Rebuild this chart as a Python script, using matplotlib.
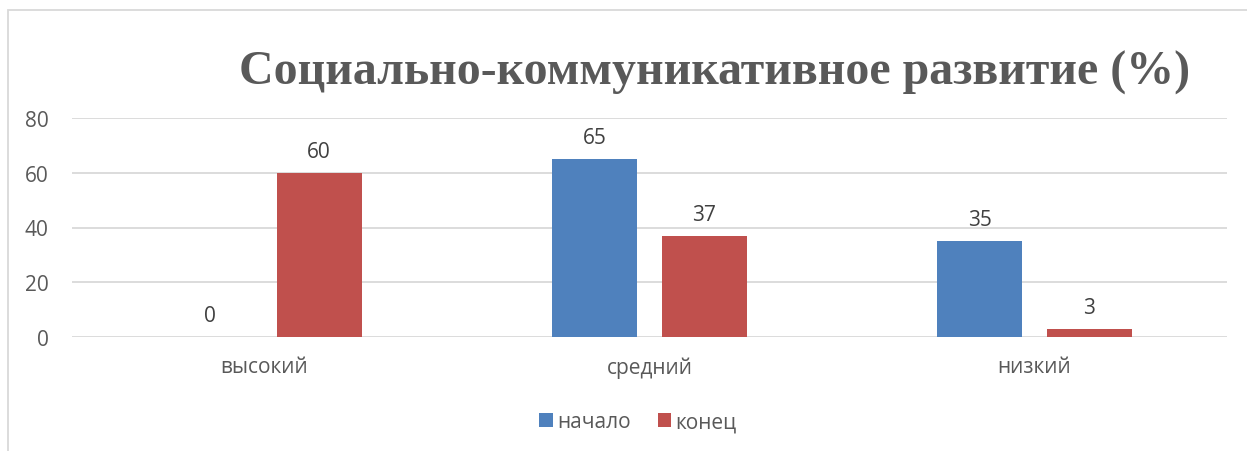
import numpy as np
import matplotlib.pyplot as plt
from matplotlib.patches import Rectangle

categories = ['высокий', 'средний', 'низкий']
start_vals = [0, 65, 35]
end_vals = [60, 37, 3]
series_names = ['начало', 'конец']
yticks = [0, 20, 40, 60, 80]

blue = '#4F81BD'
red = '#C0504D'
text_col = '#595959'

W, H = 1247, 452
fig = plt.figure(figsize=(W / 100, H / 100), dpi=100)
ax = fig.add_axes([72 / W, 1 - 338 / H, (1227 - 72) / W, (338 - 119) / H])

x = np.arange(len(categories))
bw = 0.221
off = 0.142
b1 = ax.bar(x - off, start_vals, bw, color=blue, label=series_names[0], zorder=3)
b2 = ax.bar(x + off, end_vals, bw, color=red, label=series_names[1], zorder=3)

for bars, vals in ((b1, start_vals), (b2, end_vals)):
    for rect, v in zip(bars, vals):
        ax.annotate(str(v), (rect.get_x() + rect.get_width() / 2, v),
                    xytext=(0, 8), textcoords='offset points',
                    ha='center', va='bottom', fontsize=15,
                    color='#404040', family='Open Sans')

ax.set_xlim(-0.5, 2.5)
ax.set_ylim(0, 80)
ax.set_yticks(yticks)
ax.set_xticks(x)
ax.set_xticklabels(categories)
ax.grid(axis='y', color='#D9D9D9', linewidth=1.3, zorder=0)
for s in ax.spines.values():
    s.set_visible(False)
ax.tick_params(length=0, labelsize=15, colors=text_col)
ax.tick_params(axis='x', pad=14)
ax.tick_params(axis='y', pad=17)
for lab in ax.get_xticklabels() + ax.get_yticklabels():
    lab.set_family('Open Sans')

fig.text(715 / W, 1 - 73 / H, 'Социально-коммуникативное развитие (%)',
         ha='center', va='center', fontsize=34.5, fontweight='bold',
         family='Liberation Serif', color=text_col)

leg = fig.legend(handles=[b1, b2], loc='center', bbox_to_anchor=(638 / W, 1 - 423 / H),
                 ncol=2, frameon=False, handlelength=0.65, handleheight=0.65,
                 handletextpad=0.2, columnspacing=1.3,
                 prop={'family': 'Open Sans', 'size': 15})
for t in leg.get_texts():
    t.set_color(text_col)

# outer chart border (left and top edges visible)
fig.add_artist(Rectangle((8 / W, -0.1), 2, 1.1 - 11 / H, transform=fig.transFigure,
                         fill=False, edgecolor='#D9D9D9', linewidth=1.3))

fig.savefig('out.png', dpi=100)
